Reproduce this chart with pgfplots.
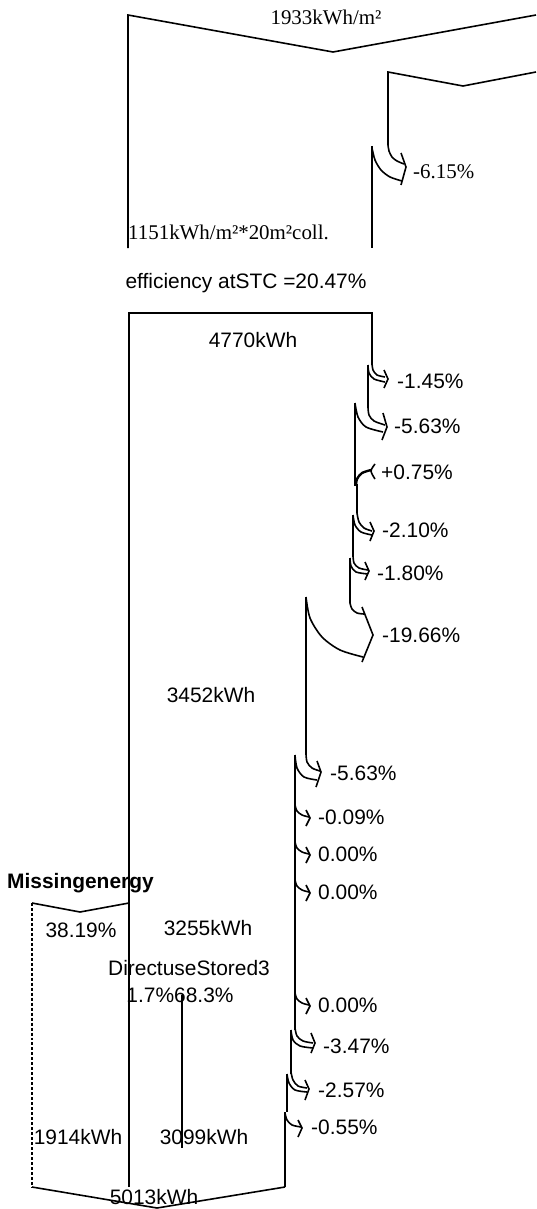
\documentclass[border=0pt]{standalone}
\usepackage{fontspec}
\setmainfont{Liberation Sans}
\newfontfamily\serif{Liberation Serif}
\usepackage{pgfplots}
\pgfplotsset{compat=1.18}
\tikzset{st/.style={font=\fontsize{21}{25}\selectfont, inner sep=0pt},
         sr/.style={font=\serif\fontsize{21}{25}\selectfont, inner sep=0pt}}
\begin{document}
\begin{tikzpicture}
\begin{axis}[
 width=536bp, height=1209bp, scale only axis,
 xmin=0,xmax=536,ymin=0,ymax=1209,y dir=reverse,
 hide axis, clip=false,
 cycle list={{black,solid,mark=none,line width=1.6pt}},
 every axis plot/.append style={black, line width=1.6pt, mark=none},
]
\addplot[draw=none] coordinates {(0,0) (536,1209)};
% ---------- top block ----------
\addplot coordinates {(128,248) (128,15) (333,52) (536,15)};
\addplot coordinates {(536,72) (463,86) (388,72) (388,145)};
\addplot[smooth] coordinates {(388,145) (389,151) (392,157) (397,161) (404,164)};
\addplot[smooth] coordinates {(372,148) (375,160) (381,170) (390,177) (402,181)};
\addplot[solid] coordinates {(401,153) (406,167) (401,185)};
\addplot coordinates {(372,146) (372,248)};
\node[sr] at (axis cs:326,17) {1933kWh/m²};
\node[sr,anchor=west] at (axis cs:413,172) {-6.15\%};
\node[sr,anchor=west] at (axis cs:128,232) {1151kWh/m²*20m²coll.};
\node[st] at (axis cs:246,283) {efficiency atSTC =20.47\%};
% ---------- main block ----------
\addplot coordinates {(129,1187) (129,313) (372,313) (372,365)};
% -1.45
\addplot[smooth] coordinates {(372,363) (373,370) (377,375) (385,377)};
\addplot[smooth] coordinates {(368,365) (369,373) (374,379) (385,382)};
\addplot[solid] coordinates {(384,370) (388,379) (384,388)};
\node[st,anchor=west] at (axis cs:397,381) {-1.45\%};
\addplot coordinates {(368,365) (368,407)};
% -5.63
\addplot[smooth] coordinates {(368,407) (369,415) (374,421) (385,425)};
\addplot[smooth] coordinates {(355,403) (358,417) (366,427) (383,432)};
\addplot[solid] coordinates {(383,413) (387,427) (382,440)};
\node[st,anchor=west] at (axis cs:394,426) {-5.63\%};
\addplot coordinates {(355,403) (355,486)};
% +0.75
\addplot[smooth, line width=2.4pt] coordinates {(356,486) (357,479) (362,473) (371,470)};
\addplot[smooth] coordinates {(375,464) (371,471) (375,479)};
\node[st,anchor=west] at (axis cs:381,472) {+0.75\%};
\addplot coordinates {(357,484) (357,513)};
% -2.10
\addplot[smooth] coordinates {(357,513) (359,522) (364,528) (372,531)};
\addplot[smooth] coordinates {(353,515) (355,525) (361,532) (372,535)};
\addplot[solid] coordinates {(370,522) (374,531) (370,541)};
\node[st,anchor=west] at (axis cs:382,530) {-2.10\%};
\addplot coordinates {(353,515) (353,557)};
% -1.80
\addplot[smooth] coordinates {(353,555) (354,563) (359,568) (368,570)};
\addplot[smooth] coordinates {(350,558) (351,566) (356,572) (368,574)};
\addplot[solid] coordinates {(365,562) (369,571) (365,580)};
\node[st,anchor=west] at (axis cs:377,573) {-1.80\%};
\addplot coordinates {(350,558) (350,603)};
% -19.66
\addplot[smooth] coordinates {(350,603) (352,609) (357,613) (364,614)};
\addplot[solid] coordinates {(362,607) (373,635) (362,662)};
\addplot[smooth] coordinates {(306,597) (310,618) (322,637) (340,650) (363,657)};
\node[st,anchor=west] at (axis cs:382,635) {-19.66\%};
\addplot coordinates {(306,597) (306,755)};
% -5.63
\addplot[smooth] coordinates {(306,753) (307,762) (312,768) (320,771)};
\addplot[smooth] coordinates {(295,755) (297,768) (304,777) (317,780)};
\addplot[solid] coordinates {(317,761) (321,772) (316,787)};
\node[st,anchor=west] at (axis cs:330,773) {-5.63\%};
\addplot coordinates {(295,755) (295,1030)};
% small losses
\addplot[smooth] coordinates {(295,805) (297,811) (302,815) (309,817)};
\addplot[solid] coordinates {(306,810) (310,818) (306,826)};
\node[st,anchor=west] at (axis cs:318,817) {-0.09\%};
\addplot[smooth] coordinates {(295,842) (297,848) (302,852) (309,854)};
\addplot[solid] coordinates {(306,847) (310,855) (306,863)};
\node[st,anchor=west] at (axis cs:318,854) {0.00\%};
\addplot[smooth] coordinates {(295,880) (297,886) (302,890) (309,892)};
\addplot[solid] coordinates {(306,885) (310,893) (306,901)};
\node[st,anchor=west] at (axis cs:318,892) {0.00\%};
\addplot[smooth] coordinates {(295,993) (297,999) (302,1003) (309,1005)};
\addplot[solid] coordinates {(306,998) (310,1006) (306,1014)};
\node[st,anchor=west] at (axis cs:318,1005) {0.00\%};
% -3.47
\addplot[smooth] coordinates {(295,1028) (297,1036) (303,1041) (313,1043)};
\addplot[smooth] coordinates {(291,1030) (293,1040) (300,1046) (313,1048)};
\addplot[solid] coordinates {(311,1033) (315,1043) (311,1053)};
\node[st,anchor=west] at (axis cs:323,1046) {-3.47\%};
\addplot coordinates {(291,1030) (291,1074)};
% -2.57
\addplot[smooth] coordinates {(291,1072) (293,1080) (298,1086) (307,1088)};
\addplot[smooth] coordinates {(287,1074) (289,1083) (295,1090) (307,1092)};
\addplot[solid] coordinates {(305,1080) (309,1089) (305,1100)};
\node[st,anchor=west] at (axis cs:318,1090) {-2.57\%};
\addplot coordinates {(287,1074) (287,1112)};
\addplot coordinates {(285,1112) (285,1187)};
% -0.55
\addplot[smooth] coordinates {(285,1113) (287,1120) (292,1125) (301,1127)};
\addplot[solid] coordinates {(298,1120) (302,1128) (298,1137)};
\node[st,anchor=west] at (axis cs:311,1127) {-0.55\%};
% bottom
\addplot coordinates {(32,1187) (157,1208) (285,1187)};
\addplot[densely dashed, line width=1.2pt] coordinates {(32,903) (32,1187)};
\addplot coordinates {(32,903) (80,912) (129,903)};
\addplot coordinates {(182,995) (182,1148)};
% labels
\node[st] at (axis cs:253,340) {4770kWh};
\node[st] at (axis cs:211,695) {3452kWh};
\node[st,anchor=west,font=\bfseries\fontsize{21}{25}\selectfont] at (axis cs:7,883) {Missingenergy};
\node[st] at (axis cs:81,930) {38.19\%};
\node[st] at (axis cs:208,928) {3255kWh};
\node[st] at (axis cs:189,968) {DirectuseStored3};
\node[st] at (axis cs:180,995) {1.7\%68.3\%};
\node[st] at (axis cs:78,1137) {1914kWh};
\node[st] at (axis cs:204,1137) {3099kWh};
\node[st] at (axis cs:154,1197) {5013kWh};
\end{axis}
\end{tikzpicture}
\end{document}
